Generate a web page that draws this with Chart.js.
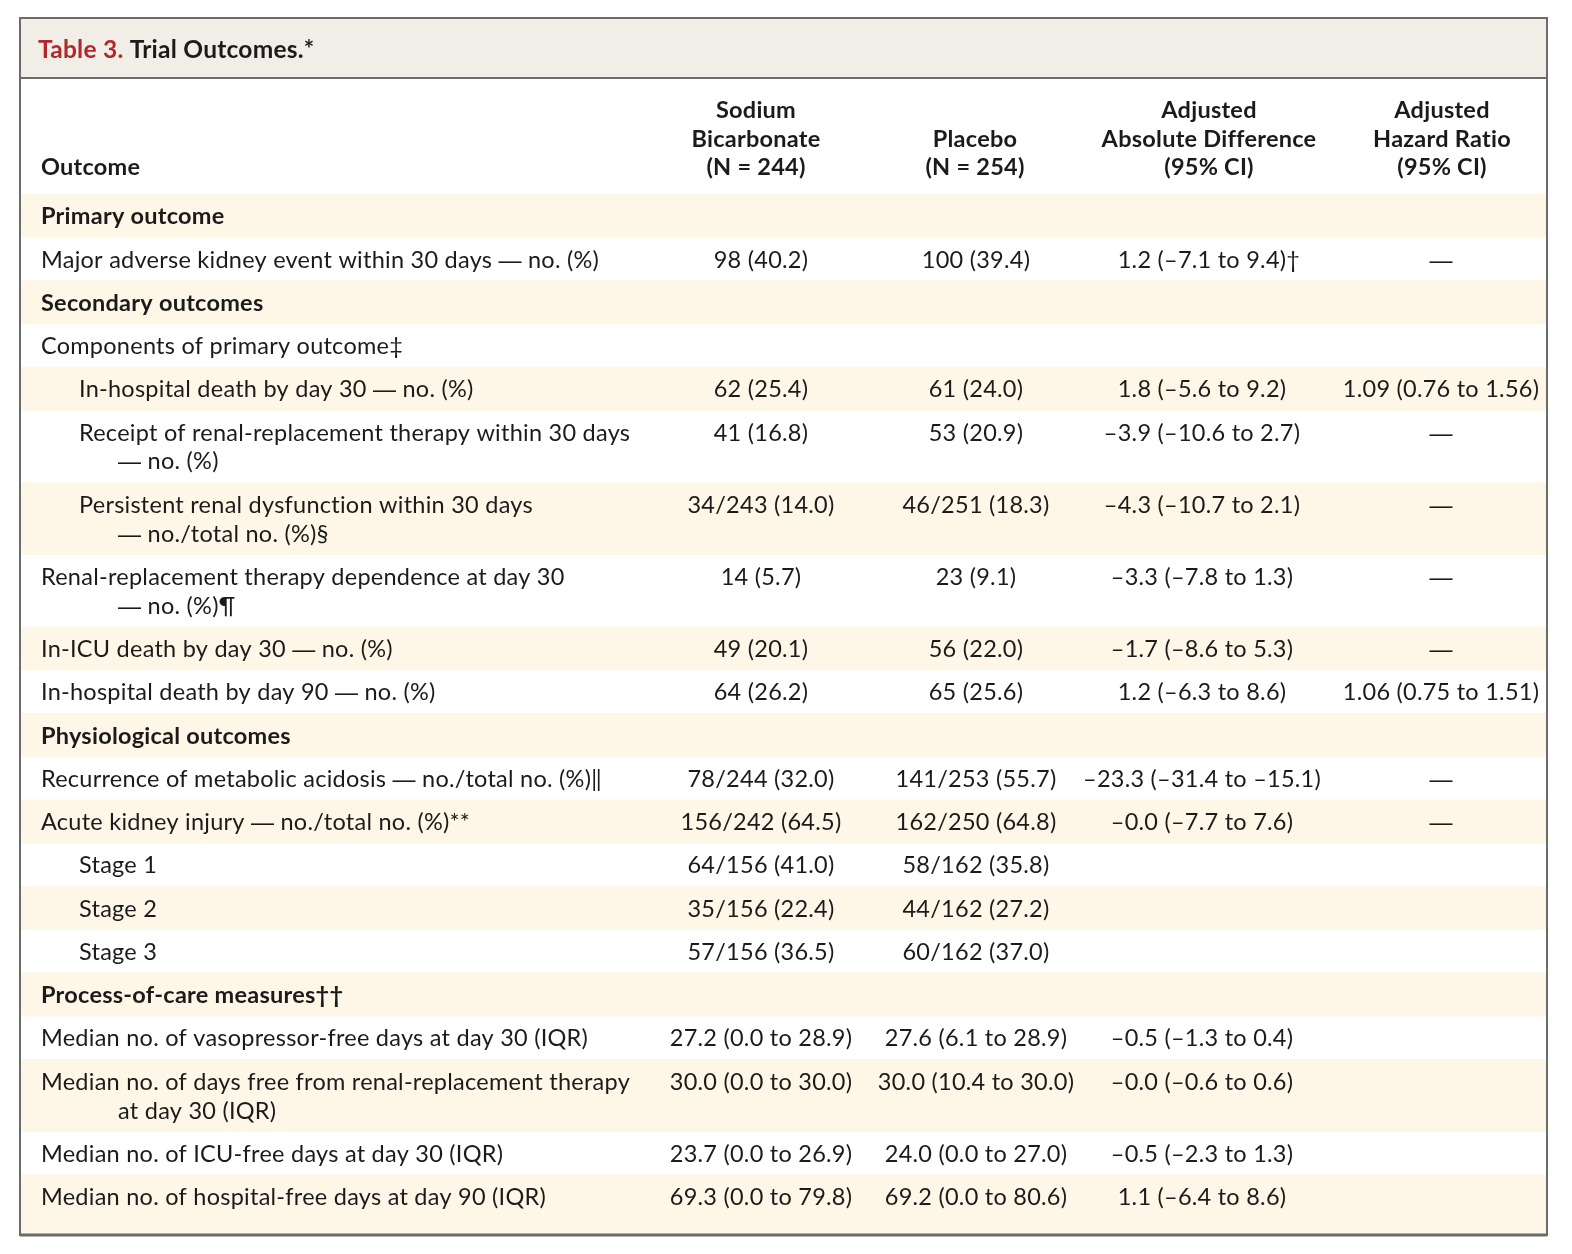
<!DOCTYPE html>
<html>
<head>
<meta charset="utf-8">
<title>Table 3. Trial Outcomes.</title>
<script src="https://cdn.jsdelivr.net/npm/chart.js@4.4.1/dist/chart.umd.min.js"></script>
<style>
  html, body { margin: 0; padding: 0; background: #fff; }
  #wrap { width: 1572px; height: 1254px; position: relative; }
</style>
</head>
<body>
<div id="wrap"><canvas id="outcomes"></canvas></div>
<script>
// Table 3 -- trial outcomes, sodium bicarbonate vs placebo

var tableNo = 'Table 3.';
var tableTitle = 'Trial Outcomes.*';
var firstHead = 'Outcome';
var columnHeads = [
    ['Sodium', 'Bicarbonate', '(N = 244)'],
    ['Placebo', '(N = 254)'],
    ['Adjusted', 'Absolute Difference', '(95% CI)'],
    ['Adjusted', 'Hazard Ratio', '(95% CI)']
];

// each outcome label is a list of its printed lines
var outcomes = [
    ['Primary outcome'],
    ['Major adverse kidney event within 30 days — no. (%)'],
    ['Secondary outcomes'],
    ['Components of primary outcome‡'],
    ['In-hospital death by day 30 — no. (%)'],
    ['Receipt of renal-replacement therapy within 30 days', '— no. (%)'],
    ['Persistent renal dysfunction within 30 days', '— no./total no. (%)§'],
    ['Renal-replacement therapy dependence at day 30', '— no. (%)¶'],
    ['In-ICU death by day 30 — no. (%)'],
    ['In-hospital death by day 90 — no. (%)'],
    ['Physiological outcomes'],
    ['Recurrence of metabolic acidosis — no./total no. (%)‖'],
    ['Acute kidney injury — no./total no. (%)**'],
    ['Stage 1'],
    ['Stage 2'],
    ['Stage 3'],
    ['Process-of-care measures††'],
    ['Median no. of vasopressor-free days at day 30 (IQR)'],
    ['Median no. of days free from renal-replacement therapy', 'at day 30 (IQR)'],
    ['Median no. of ICU-free days at day 30 (IQR)'],
    ['Median no. of hospital-free days at day 90 (IQR)']
];
var rowLevel = ['section', 'item', 'section', 'item', 'sub', 'sub', 'sub', 'item', 'item', 'item',
    'section', 'item', 'item', 'sub', 'sub', 'sub', 'section', 'item', 'item', 'item', 'item'];

var sodiumBicarbonate = ['', '98 (40.2)', '', '', '62 (25.4)', '41 (16.8)', '34/243 (14.0)', '14 (5.7)',
    '49 (20.1)', '64 (26.2)', '', '78/244 (32.0)', '156/242 (64.5)', '64/156 (41.0)', '35/156 (22.4)',
    '57/156 (36.5)', '', '27.2 (0.0 to 28.9)', '30.0 (0.0 to 30.0)', '23.7 (0.0 to 26.9)', '69.3 (0.0 to 79.8)'];
var placebo = ['', '100 (39.4)', '', '', '61 (24.0)', '53 (20.9)', '46/251 (18.3)', '23 (9.1)',
    '56 (22.0)', '65 (25.6)', '', '141/253 (55.7)', '162/250 (64.8)', '58/162 (35.8)', '44/162 (27.2)',
    '60/162 (37.0)', '', '27.6 (6.1 to 28.9)', '30.0 (10.4 to 30.0)', '24.0 (0.0 to 27.0)', '69.2 (0.0 to 80.6)'];
var absoluteDifference = ['', '1.2 (–7.1 to 9.4)†', '', '', '1.8 (–5.6 to 9.2)', '–3.9 (–10.6 to 2.7)',
    '–4.3 (–10.7 to 2.1)', '–3.3 (–7.8 to 1.3)', '–1.7 (–8.6 to 5.3)', '1.2 (–6.3 to 8.6)', '',
    '–23.3 (–31.4 to –15.1)', '–0.0 (–7.7 to 7.6)', '', '', '', '', '–0.5 (–1.3 to 0.4)',
    '–0.0 (–0.6 to 0.6)', '–0.5 (–2.3 to 1.3)', '1.1 (–6.4 to 8.6)'];
var hazardRatio = ['', '—', '', '', '1.09 (0.76 to 1.56)', '—', '—', '—', '—', '1.06 (0.75 to 1.51)', '',
    '—', '—', '', '', '', '', '', '', '', ''];

// layout, in "line units" on the y axis (one unit ~ half a text line)
var titleBand = 4.16;
var headBand = 8.04;
var footPad = 1.17;
var headCenter = [756, 975, 1209, 1442];
var colCenter = [761, 976, 1202, 1441];
var labelX = { section: 41, item: 41, sub: 79 };
var wrapX = 118;

var shade = '#fef6e7';
var titleFill = '#f1ede7';
var rule = '#6b6b6b';
var ink = '#1b1b1b';
var red = '#b0282c';
var bodyFont = '23.5px Lato';
var boldFont = 'bold 23.5px Lato';
var dashFont = '23px "Liberation Sans"';   // Lato's em dash is too short
var spacing = '0.25px';

var rowTop = [];
var rowSpan = [];
var y0 = titleBand + headBand;
outcomes.forEach(function (lines) {
    rowTop.push(y0);
    var span = lines.length > 1 ? 5 : 3;
    rowSpan.push(span);
    y0 += span;
});
var yMax = y0 + footPad;

// stripes are floating bars on one category
var datasets = [{
    data: [[0, titleBand]],
    backgroundColor: titleFill
}];
outcomes.forEach(function (lines, i) {
    if (i % 2 !== 0) return;
    var bottom = i === outcomes.length - 1 ? yMax : rowTop[i] + rowSpan[i];
    datasets.push({ data: [[rowTop[i], bottom]], backgroundColor: shade });
});

// text with em dashes set in a wider font
function pieces(s) {
    return s.split(/(—)/).filter(function (p) { return p !== ''; });
}
function runWidth(ctx, s, font) {
    var w = 0;
    pieces(s).forEach(function (p) {
        ctx.font = p === '—' ? dashFont : font;
        w += ctx.measureText(p).width;
    });
    return w;
}
function drawRun(ctx, s, x, y, font) {
    pieces(s).forEach(function (p) {
        ctx.font = p === '—' ? dashFont : font;
        ctx.fillText(p, x, y);
        x += ctx.measureText(p).width;
    });
}

var tableText = {
    id: 'tableText',
    afterDatasetsDraw: function (chart) {
        var ctx = chart.ctx;
        var x = chart.scales.xc;
        var y = chart.scales.y;
        var area = chart.chartArea;
        ctx.save();
        ctx.textBaseline = 'alphabetic';
        ctx.textAlign = 'left';
        ctx.letterSpacing = spacing;

        // title
        ctx.font = 'bold 24.5px Lato';
        ctx.fillStyle = red;
        ctx.fillText(tableNo, x.getPixelForValue(38), y.getPixelForValue(2.75));
        var w = ctx.measureText(tableNo + ' ').width;
        ctx.fillStyle = ink;
        ctx.fillText(tableTitle, x.getPixelForValue(38) + w, y.getPixelForValue(2.75));

        // column heads, bottom aligned
        ctx.font = boldFont;
        ctx.fillText(firstHead, x.getPixelForValue(41), y.getPixelForValue(10.91));
        columnHeads.forEach(function (lines, c) {
            lines.forEach(function (s, k) {
                var yy = 10.91 - 2 * (lines.length - 1 - k);
                var hw = ctx.measureText(s).width;
                ctx.fillText(s, x.getPixelForValue(headCenter[c]) - hw / 2, y.getPixelForValue(yy));
            });
        });

        // body rows
        outcomes.forEach(function (lines, i) {
            var lvl = rowLevel[i];
            var font = lvl === 'section' ? boldFont : bodyFont;
            ctx.fillStyle = ink;
            lines.forEach(function (s, k) {
                var lx = k > 0 ? wrapX : labelX[lvl];
                drawRun(ctx, s, x.getPixelForValue(lx), y.getPixelForValue(rowTop[i] + 2.1 + 2 * k), font);
            });
            [sodiumBicarbonate[i], placebo[i], absoluteDifference[i], hazardRatio[i]].forEach(function (s, c) {
                if (!s) return;
                var core = s.replace(/[†‡§¶‖*]+$/, '');
                var cw = runWidth(ctx, core, bodyFont);
                drawRun(ctx, s, x.getPixelForValue(colCenter[c]) - cw / 2, y.getPixelForValue(rowTop[i] + 2.1), bodyFont);
            });
        });

        // frame
        ctx.strokeStyle = rule;
        ctx.lineWidth = 2;
        ctx.strokeRect(area.left, area.top, area.right - area.left, area.bottom - area.top);
        ctx.beginPath();
        ctx.moveTo(area.left, y.getPixelForValue(titleBand));
        ctx.lineTo(area.right, y.getPixelForValue(titleBand));
        ctx.stroke();
        ctx.lineWidth = 3;
        ctx.beginPath();
        ctx.moveTo(area.left, area.bottom);
        ctx.lineTo(area.right, area.bottom);
        ctx.stroke();
        ctx.restore();
    }
};

var outcomesChart = new Chart(document.getElementById('outcomes'), {
    type: 'bar',
    data: { labels: ['table'], datasets: datasets },
    options: {
        responsive: true,
        maintainAspectRatio: false,
        animation: false,
        events: [],
        layout: { padding: { left: 20, right: 25, top: 18, bottom: 19 } },
        datasets: { bar: { grouped: false, barPercentage: 1, categoryPercentage: 1, borderWidth: 0 } },
        plugins: { legend: { display: false }, tooltip: { enabled: false } },
        scales: {
            x: { display: false },
            xc: { type: 'linear', axis: 'x', display: false, offset: false, min: 20, max: 1547 },
            y: { type: 'linear', display: false, reverse: true, min: 0, max: yMax }
        }
    },
    plugins: [tableText]
});
</script>
</body>
</html>
